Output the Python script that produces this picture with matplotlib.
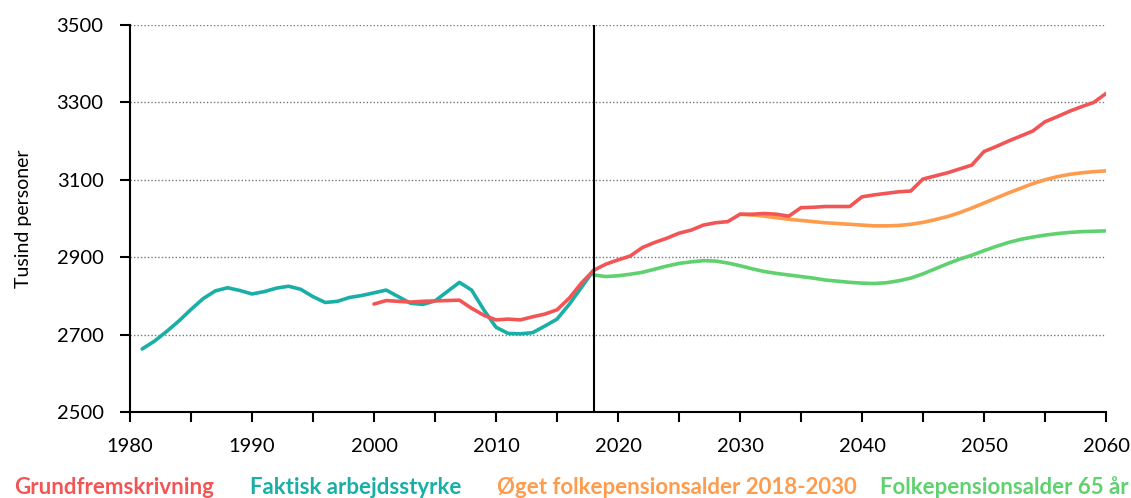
import matplotlib
matplotlib.use("Agg")
import matplotlib.pyplot as plt
import numpy as np

# colours
RED = "#f25555"
TEAL = "#1aafa6"
ORANGE = "#ff9b4c"
GREEN = "#5fd16f"

# Faktisk arbejdsstyrke 1981-2018
teal_years = np.arange(1981, 2019)
teal_vals = [2663, 2683, 2708, 2735, 2765, 2793, 2813, 2821, 2814, 2805,
             2811, 2820, 2825, 2817, 2798, 2783, 2786, 2796, 2801, 2808,
             2815, 2798, 2781, 2778, 2787, 2811, 2835, 2815, 2764, 2719,
             2703, 2702, 2705, 2722, 2740, 2778, 2822, 2866]

# Grundfremskrivning 2000-2060
red_years = np.arange(2000, 2061)
red_vals = [2779, 2788, 2786, 2784, 2786, 2787, 2788, 2789, 2768, 2750,
            2738, 2740, 2738, 2746, 2753, 2764, 2794, 2833, 2866, 2882,
            2893, 2903, 2925, 2938, 2949, 2962, 2970, 2983, 2989, 2992,
            3011, 3011, 3013, 3011, 3006, 3028, 3029, 3031, 3031, 3031,
            3056, 3061, 3065, 3069, 3071, 3102, 3110, 3118, 3128, 3138,
            3173, 3186, 3200, 3213, 3226, 3250, 3263, 3277, 3289, 3300,
            3323]

# Øget folkepensionsalder 2018-2030 (2030-2060)
orange_years = np.arange(2030, 2061)
orange_vals = [3011, 3009, 3006, 3002, 2998, 2995, 2992, 2989, 2987, 2985,
               2983, 2981, 2981, 2982, 2985, 2990, 2997, 3005, 3015, 3027,
               3040, 3053, 3066, 3078, 3090, 3100, 3108, 3114, 3118, 3121,
               3123]

# Folkepensionsalder 65 år 2018-2060
green_years = np.arange(2018, 2061)
green_vals = [2854, 2850, 2852, 2856, 2861, 2869, 2877, 2884, 2888, 2891,
              2890, 2885, 2878, 2870, 2863, 2858, 2854, 2850, 2846, 2841,
              2838, 2835, 2833, 2832, 2834, 2839, 2846, 2857, 2870, 2883,
              2895, 2905, 2917, 2928, 2938, 2946, 2952, 2957, 2961, 2964,
              2966, 2967, 2968]

legend_labels = ["Grundfremskrivning", "Faktisk arbejdsstyrke",
                 "Øget folkepensionsalder 2018-2030", "Folkepensionsalder 65 år"]
legend_colors = [RED, TEAL, ORANGE, GREEN]
legend_x = [14, 250, 497, 880]

plt.rcParams["font.family"] = ["Lato", "DejaVu Sans"]

fig = plt.figure(figsize=(11.31, 4.98), dpi=100)
ax = fig.add_axes([130 / 1131, 1 - 412 / 498, 976 / 1131, 387 / 498])

lw = 2.6
ax.plot(green_years, green_vals, color=GREEN, lw=lw, solid_capstyle="round", zorder=3)
ax.plot(orange_years, orange_vals, color=ORANGE, lw=lw, solid_capstyle="round", zorder=3)
ax.plot(teal_years, teal_vals, color=TEAL, lw=lw, solid_capstyle="round", zorder=4)
ax.plot(red_years, red_vals, color=RED, lw=lw, solid_capstyle="round", zorder=5)

ax.axvline(2018, color="black", lw=1.5, zorder=6)

ax.set_xlim(1980, 2060)
ax.set_ylim(2500, 3500)
ax.set_xticks(np.arange(1980, 2061, 10))
ax.set_xticks(np.arange(1980, 2061, 5), minor=True)
ax.set_yticks(np.arange(2500, 3501, 200))

for side in ["top", "right"]:
    ax.spines[side].set_visible(False)
for side in ["left", "bottom"]:
    ax.spines[side].set_linewidth(1.5)

ax.tick_params(axis="both", which="both", direction="out", width=1.5, labelsize=14.5)
ax.tick_params(axis="x", which="both", length=7, pad=12)
ax.tick_params(axis="y", length=7, pad=12)

ax.grid(axis="y", linestyle=(0, (1, 1.5)), color="#777777", lw=1)
ax.set_axisbelow(True)

ax.set_ylabel("Tusind personer", fontsize=14, labelpad=18)

for lab, col, xp in zip(legend_labels, legend_colors, legend_x):
    fig.text(xp / 1131, 1 - 487 / 498, lab, color=col, fontsize=16,
             fontweight="bold", ha="left", va="center")

fig.savefig("out.png", dpi=100)
